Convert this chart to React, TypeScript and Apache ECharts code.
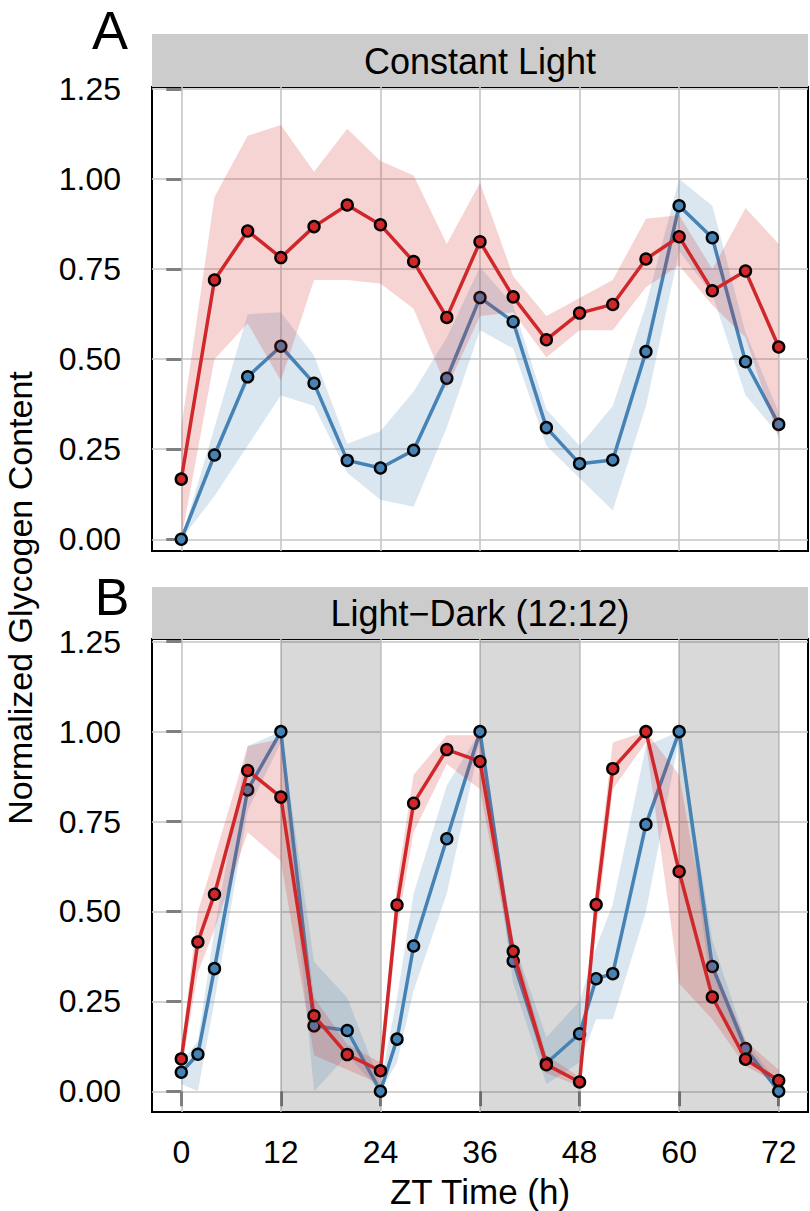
import React, { useEffect, useRef } from 'react';
import * as echarts from 'echarts';

// ---------- Data ----------
const timesA = [0, 4, 8, 12, 16, 20, 24, 28, 32, 36, 40, 44, 48, 52, 56, 60, 64, 68, 72];
const redA = [0.167, 0.72, 0.856, 0.782, 0.868, 0.928, 0.873, 0.771, 0.616, 0.826, 0.673, 0.554, 0.628, 0.652, 0.778, 0.84, 0.69, 0.745, 0.534];
const redALow = [0.0, 0.5, 0.6, 0.44, 0.72, 0.72, 0.71, 0.64, 0.42, 0.62, 0.63, 0.505, 0.58, 0.58, 0.7, 0.76, 0.65, 0.56, 0.28];
const redAHigh = [0.31, 0.95, 1.12, 1.15, 1.02, 1.14, 1.05, 1.01, 0.82, 0.99, 0.73, 0.62, 0.67, 0.72, 0.89, 0.9, 0.75, 0.92, 0.82];
const blueA = [0.0, 0.234, 0.451, 0.536, 0.433, 0.219, 0.198, 0.247, 0.447, 0.671, 0.604, 0.31, 0.21, 0.22, 0.521, 0.926, 0.837, 0.493, 0.319];
const blueALow = [0.0, 0.12, 0.26, 0.4, 0.37, 0.185, 0.11, 0.09, 0.31, 0.58, 0.53, 0.26, 0.17, 0.08, 0.37, 0.8, 0.68, 0.4, 0.29];
const blueAHigh = [0.0, 0.31, 0.625, 0.63, 0.51, 0.265, 0.3, 0.41, 0.56, 0.756, 0.65, 0.36, 0.26, 0.37, 0.65, 1.0, 0.926, 0.574, 0.352];

const timesB = [0, 2, 4, 8, 12, 16, 20, 24, 26, 28, 32, 36, 40, 44, 48, 50, 52, 56, 60, 64, 68, 72];
const redB = [0.09, 0.415, 0.548, 0.892, 0.818, 0.21, 0.102, 0.057, 0.518, 0.801, 0.95, 0.917, 0.389, 0.074, 0.026, 0.519, 0.897, 1.0, 0.611, 0.262, 0.089, 0.03];
const redBLow = [0.06, 0.33, 0.45, 0.72, 0.64, 0.1, 0.06, 0.02, 0.45, 0.72, 0.91, 0.84, 0.35, 0.05, 0.015, 0.45, 0.84, 0.97, 0.3, 0.2, 0.07, 0.02];
const redBHigh = [0.12, 0.5, 0.65, 0.96, 0.98, 0.26, 0.13, 0.08, 0.58, 0.88, 0.99, 0.99, 0.42, 0.1, 0.04, 0.58, 0.97, 1.0, 0.88, 0.36, 0.14, 0.06];
const blueB = [0.053, 0.103, 0.341, 0.838, 1.0, 0.182, 0.169, 0.0, 0.145, 0.404, 0.702, 1.0, 0.362, 0.078, 0.16, 0.313, 0.327, 0.742, 1.0, 0.347, 0.119, 0.0];
const blueBLow = [0.02, 0.0, 0.25, 0.78, 0.97, 0.0, 0.1, 0.0, 0.08, 0.28, 0.55, 0.97, 0.3, 0.02, 0.08, 0.2, 0.2, 0.5, 0.98, 0.25, 0.1, 0.0];
const blueBHigh = [0.08, 0.14, 0.45, 0.96, 1.0, 0.36, 0.26, 0.02, 0.26, 0.55, 0.85, 1.0, 0.42, 0.15, 0.25, 0.4, 0.52, 0.96, 1.0, 0.42, 0.14, 0.02];

const xTicks = [0, 12, 24, 36, 48, 60, 72];
const yTicks = [0, 0.25, 0.5, 0.75, 1.0, 1.25];
const darkStarts = [12, 36, 60];
const darkEnds = [24, 48, 72];

const panelTitles = ['Constant Light', 'Light\u2212Dark (12:12)'];
const panelLetters = ['A', 'B'];
const xTitle = 'ZT Time (h)';
const yTitle = 'Normalized Glycogen Content';

// ---------- Style ----------
const RED = '#D0282A';
const BLUE = '#4682B4';
const RED_FILL = 'rgba(208,40,42,0.2)';
const BLUE_FILL = 'rgba(70,130,180,0.2)';
const FONT = '"Liberation Sans", Arial, Helvetica, sans-serif';

const pair = (t: number[], v: number[]) => t.map((x, i) => [x, v[i]]);

function ribbon(idx: number, t: number[], lo: number[], hi: number[], fill: string, z: number) {
  return {
    type: 'custom',
    xAxisIndex: idx,
    yAxisIndex: idx,
    data: [[t[0], lo[0]]],
    clip: true,
    silent: true,
    z,
    renderItem: (_p: any, api: any) => {
      const pts: number[][] = [];
      for (let i = 0; i < t.length; i++) pts.push(api.coord([t[i], hi[i]]));
      for (let i = t.length - 1; i >= 0; i--) pts.push(api.coord([t[i], lo[i]]));
      return { type: 'polygon', shape: { points: pts }, style: { fill } };
    },
  };
}

function lineS(idx: number, t: number[], v: number[], color: string, z: number) {
  return {
    type: 'line',
    xAxisIndex: idx,
    yAxisIndex: idx,
    data: pair(t, v),
    showSymbol: false,
    symbol: 'none',
    lineStyle: { color, width: 3.5 },
    z,
    silent: true,
  };
}

function pointS(idx: number, t: number[], v: number[], color: string, z: number) {
  return {
    type: 'scatter',
    xAxisIndex: idx,
    yAxisIndex: idx,
    data: pair(t, v),
    symbol: 'circle',
    symbolSize: 11,
    itemStyle: { color, borderColor: '#000', borderWidth: 2.4, opacity: 1 },
    z,
    silent: true,
  };
}

function xAxisDef(idx: number, showLabels: boolean) {
  return {
    type: 'value',
    gridIndex: idx,
    min: -3.53,
    max: 75.53,
    axisLine: { show: false },
    axisTick: {
      show: showLabels,
      customValues: xTicks,
      length: 15,
      inside: false,
      lineStyle: { color: '#7F7F7F', width: 3 },
    },
    axisLabel: {
      show: showLabels,
      customValues: xTicks,
      fontSize: 32,
      color: '#000',
      fontFamily: FONT,
      margin: 24,
    },
    splitLine: { show: true, lineStyle: { color: '#C6C6C6', width: 1.6 } },
  };
}

function yAxisDef(idx: number, min: number, max: number) {
  return {
    type: 'value',
    gridIndex: idx,
    min,
    max,
    axisLine: { show: false },
    axisTick: {
      show: true,
      customValues: yTicks,
      length: 15,
      inside: false,
      lineStyle: { color: '#7F7F7F', width: 3 },
    },
    axisLabel: {
      show: true,
      customValues: yTicks,
      fontSize: 32,
      color: '#000',
      fontFamily: FONT,
      margin: 31,
      formatter: (v: number) => v.toFixed(2),
    },
    splitLine: { show: true, lineStyle: { color: '#C6C6C6', width: 1.6 } },
  };
}

export default function App() {
  const ref = useRef<HTMLDivElement>(null);
  useEffect(() => {
    const chart = echarts.init(ref.current!, null, { renderer: 'svg' });
    const option: any = {
      animation: false,
      backgroundColor: '#fff',
      textStyle: { fontFamily: FONT },
      grid: [
        { left: 152, top: 87, width: 656, height: 464, show: true, borderColor: '#000', borderWidth: 2, backgroundColor: 'transparent' },
        { left: 152, top: 639, width: 656, height: 473, show: true, borderColor: '#000', borderWidth: 2, backgroundColor: 'transparent' },
      ],
      xAxis: [xAxisDef(0, false), xAxisDef(1, true)],
      yAxis: [yAxisDef(0, -0.0325, 1.2556), yAxisDef(1, -0.0576, 1.2575)],
      series: [
        {
          type: 'line',
          xAxisIndex: 1,
          yAxisIndex: 1,
          data: [],
          z: 1,
          silent: true,
          markArea: {
            silent: true,
            itemStyle: { color: 'rgba(0,0,0,0.15)' },
            data: darkStarts.map((s, i) => [{ xAxis: s }, { xAxis: darkEnds[i] }]),
          },
        },
        ribbon(0, timesA, blueALow, blueAHigh, BLUE_FILL, 2),
        lineS(0, timesA, blueA, BLUE, 3),
        pointS(0, timesA, blueA, BLUE, 4),
        ribbon(0, timesA, redALow, redAHigh, RED_FILL, 5),
        lineS(0, timesA, redA, RED, 6),
        pointS(0, timesA, redA, RED, 7),
        ribbon(1, timesB, blueBLow, blueBHigh, BLUE_FILL, 2),
        lineS(1, timesB, blueB, BLUE, 3),
        pointS(1, timesB, blueB, BLUE, 4),
        ribbon(1, timesB, redBLow, redBHigh, RED_FILL, 5),
        lineS(1, timesB, redB, RED, 6),
        pointS(1, timesB, redB, RED, 7),
      ],
      graphic: [
        { type: 'rect', shape: { x: 152, y: 34, width: 656, height: 53 }, style: { fill: '#CCCCCC' }, z: 0 },
        { type: 'rect', shape: { x: 152, y: 587, width: 656, height: 52 }, style: { fill: '#CCCCCC' }, z: 0 },
        { type: 'text', x: 480, y: 61, style: { text: panelTitles[0], align: 'center', verticalAlign: 'middle', fontSize: 36, fontFamily: FONT, fill: '#000' } },
        { type: 'text', x: 480, y: 613, style: { text: panelTitles[1], align: 'center', verticalAlign: 'middle', fontSize: 36, fontFamily: FONT, fill: '#000' } },
        { type: 'text', x: 110, y: 30, style: { text: panelLetters[0], align: 'center', verticalAlign: 'middle', fontSize: 54, fontFamily: FONT, fill: '#000' } },
        { type: 'text', x: 112, y: 597, style: { text: panelLetters[1], align: 'center', verticalAlign: 'middle', fontSize: 52, fontFamily: FONT, fill: '#000' } },
        { type: 'text', x: 480, y: 1191, style: { text: xTitle, align: 'center', verticalAlign: 'middle', fontSize: 35, fontFamily: FONT, fill: '#000' } },
        { type: 'text', x: 20, y: 598, rotation: Math.PI / 2, style: { text: yTitle, align: 'center', verticalAlign: 'middle', fontSize: 34, fontFamily: FONT, fill: '#000' } },
      ],
    };
    chart.setOption(option);
    return () => chart.dispose();
  }, []);
  return (
    <div
      ref={ref}
      style={{ position: 'fixed', left: 0, top: 0, width: 810, height: 1211, background: '#fff' }}
    />
  );
}
